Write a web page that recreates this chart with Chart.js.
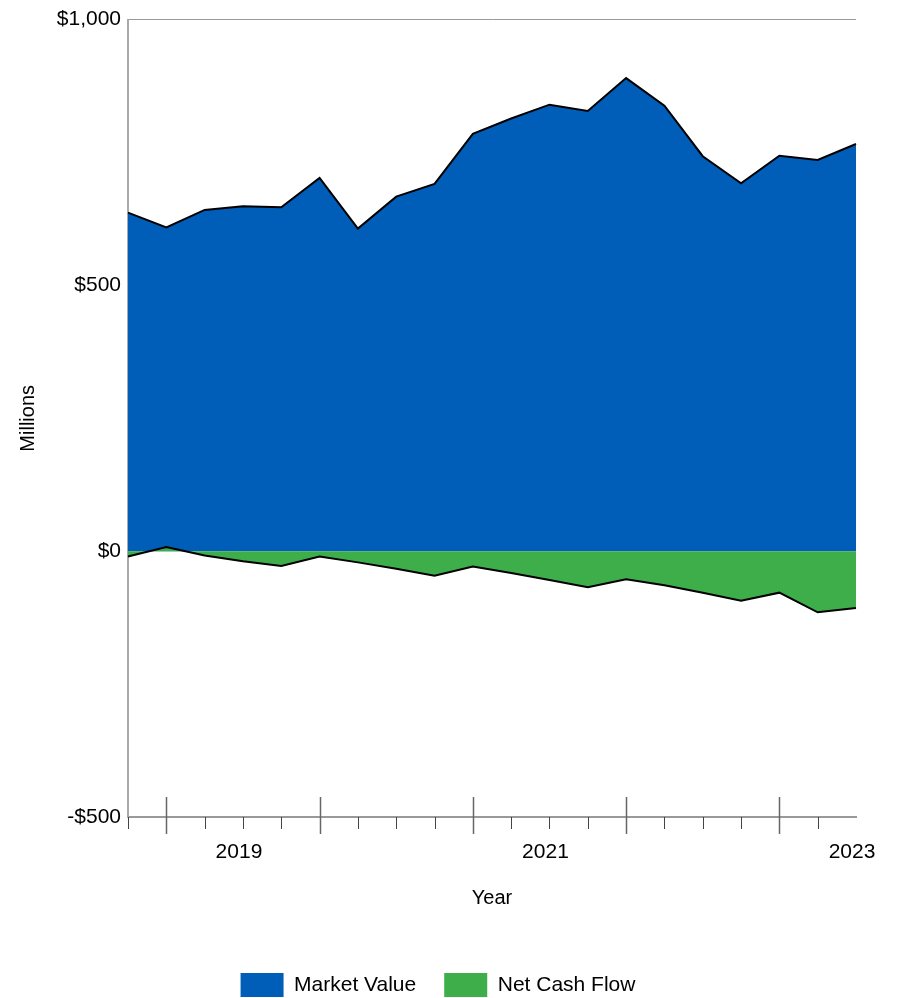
<!DOCTYPE html>
<html>
<head>
<meta charset="utf-8">
<script src="https://cdn.jsdelivr.net/npm/chart.js@4.4.1/dist/chart.umd.min.js"></script>
<style>
  html, body { margin: 0; padding: 0; background: #fff; }
  #wrap { width: 898px; height: 998px; }
</style>
</head>
<body>
<div id="wrap"><canvas id="myChart" width="898" height="998"></canvas></div>
<script>
// quarter ends
const quarters = ['2018-09', '2018-12', '2019-03', '2019-06', '2019-09', '2019-12', '2020-03', '2020-06',
  '2020-09', '2020-12', '2021-03', '2021-06', '2021-09', '2021-12', '2022-03', '2022-06',
  '2022-09', '2022-12', '2023-03', '2023-06'];
const yearLabels = ['2019', '2021', '2023'];
const marketValue = [637, 609, 642, 649, 647, 702, 607, 667, 691, 785, 814, 840, 828, 890, 838, 743, 692, 744, 736, 766];
const netCashFlow = [-10, 8, -8, -19, -28, -10, -21, -33, -46, -29, -41, -54, -68, -53, -64, -78, -93, -78, -115, -107];
const yTicks = [-500, 0, 500, 1000];

const fuente = "'Liberation Sans', Arial, sans-serif";

function dinero(v) {
  const s = '$' + Math.abs(v).toLocaleString('en-US');
  return v < 0 ? '-' + s : s;
}

// tick marks on the time axis: long ones at year boundaries
const marcasEje = {
  id: 'marcasEje',
  afterDraw(chart) {
    const x = chart.scales.x;
    const c = chart.ctx;
    const base = chart.chartArea.bottom;
    c.save();
    for (let i = 0; i < quarters.length - 1; i++) {
      const px = Math.round(x.getPixelForValue(i)) + 0.5;
      const mayor = quarters[i].endsWith('-12') && i > 0;
      c.beginPath();
      c.strokeStyle = mayor ? '#666' : '#444';
      c.lineWidth = mayor ? 1.5 : 1;
      c.moveTo(px, mayor ? base - 20 : base);
      c.lineTo(px, mayor ? base + 17 : base + 12);
      c.stroke();
    }
    c.restore();
  }
};

const ctx = document.getElementById('myChart').getContext('2d');
const myChart = new Chart(ctx, {
  type: 'line',
  data: {
    labels: quarters,
    datasets: [{
      label: 'Market Value',
      data: marketValue,
      backgroundColor: '#005DB8',
      borderColor: '#000',
      borderWidth: 2,
      fill: 'origin',
      pointRadius: 0,
      tension: 0,
      order: 2
    }, {
      label: 'Net Cash Flow',
      data: netCashFlow,
      backgroundColor: '#3DAE49',
      borderColor: '#000',
      borderWidth: 2,
      fill: 'origin',
      pointRadius: 0,
      tension: 0,
      order: 1
    }]
  },
  options: {
    responsive: false,
    animation: false,
    layout: { padding: { left: 0, right: 22, top: 19, bottom: -9 } },
    plugins: {
      tooltip: { enabled: false },
      legend: {
        position: 'bottom',
        labels: {
          boxWidth: 43,
          boxHeight: 24,
          padding: 28,
          color: '#000',
          font: { family: fuente, size: 21 },
          generateLabels(chart) {
            return chart.data.datasets.map((d, i) => ({
              text: d.label,
              fillStyle: d.backgroundColor,
              strokeStyle: 'rgba(0,0,0,0)',
              lineWidth: 0,
              datasetIndex: i
            }));
          }
        }
      }
    },
    scales: {
      x: {
        type: 'category',
        offset: false,
        grid: { display: false, drawTicks: false },
        border: { display: true, color: '#999', width: 2 },
        ticks: {
          autoSkip: false,
          maxRotation: 0,
          padding: 23,
          labelOffset: -4,
          color: '#000',
          font: { family: fuente, size: 21 },
          callback(value) {
            const q = quarters[value];
            const y = q.slice(0, 4);
            return q.endsWith('-06') && yearLabels.includes(y) ? y : '';
          }
        },
        title: {
          display: true,
          text: 'Year',
          color: '#000',
          font: { family: fuente, size: 20 },
          padding: { top: 0, bottom: 35 }
        },
        afterFit(s) {
          s.height = 128;
          s.paddingLeft = 0;
          s.paddingRight = 0;
        }
      },
      y: {
        min: -500,
        max: 1000,
        afterBuildTicks(s) { s.ticks = yTicks.map(v => ({ value: v })); },
        grid: {
          drawTicks: false,
          color: c => (c.tick && c.tick.value === 1000 ? '#999' : 'rgba(0,0,0,0)'),
          lineWidth: 1
        },
        border: { display: true, color: '#aaa', width: 2 },
        ticks: {
          padding: 7,
          color: '#000',
          font: { family: fuente, size: 21 },
          callback: v => dinero(v)
        },
        title: {
          display: true,
          text: 'Millions',
          color: '#000',
          font: { family: fuente, size: 20 },
          padding: { top: 16, bottom: 0 }
        },
        afterFit(s) { s.width = 128; }
      },
      derecha: {
        position: 'right',
        display: true,
        grid: { display: false, drawTicks: false },
        border: { display: false },
        ticks: { display: false },
        afterFit(s) { s.width = 20; }
      }
    }
  },
  plugins: [marcasEje]
});
</script>
</body>
</html>
